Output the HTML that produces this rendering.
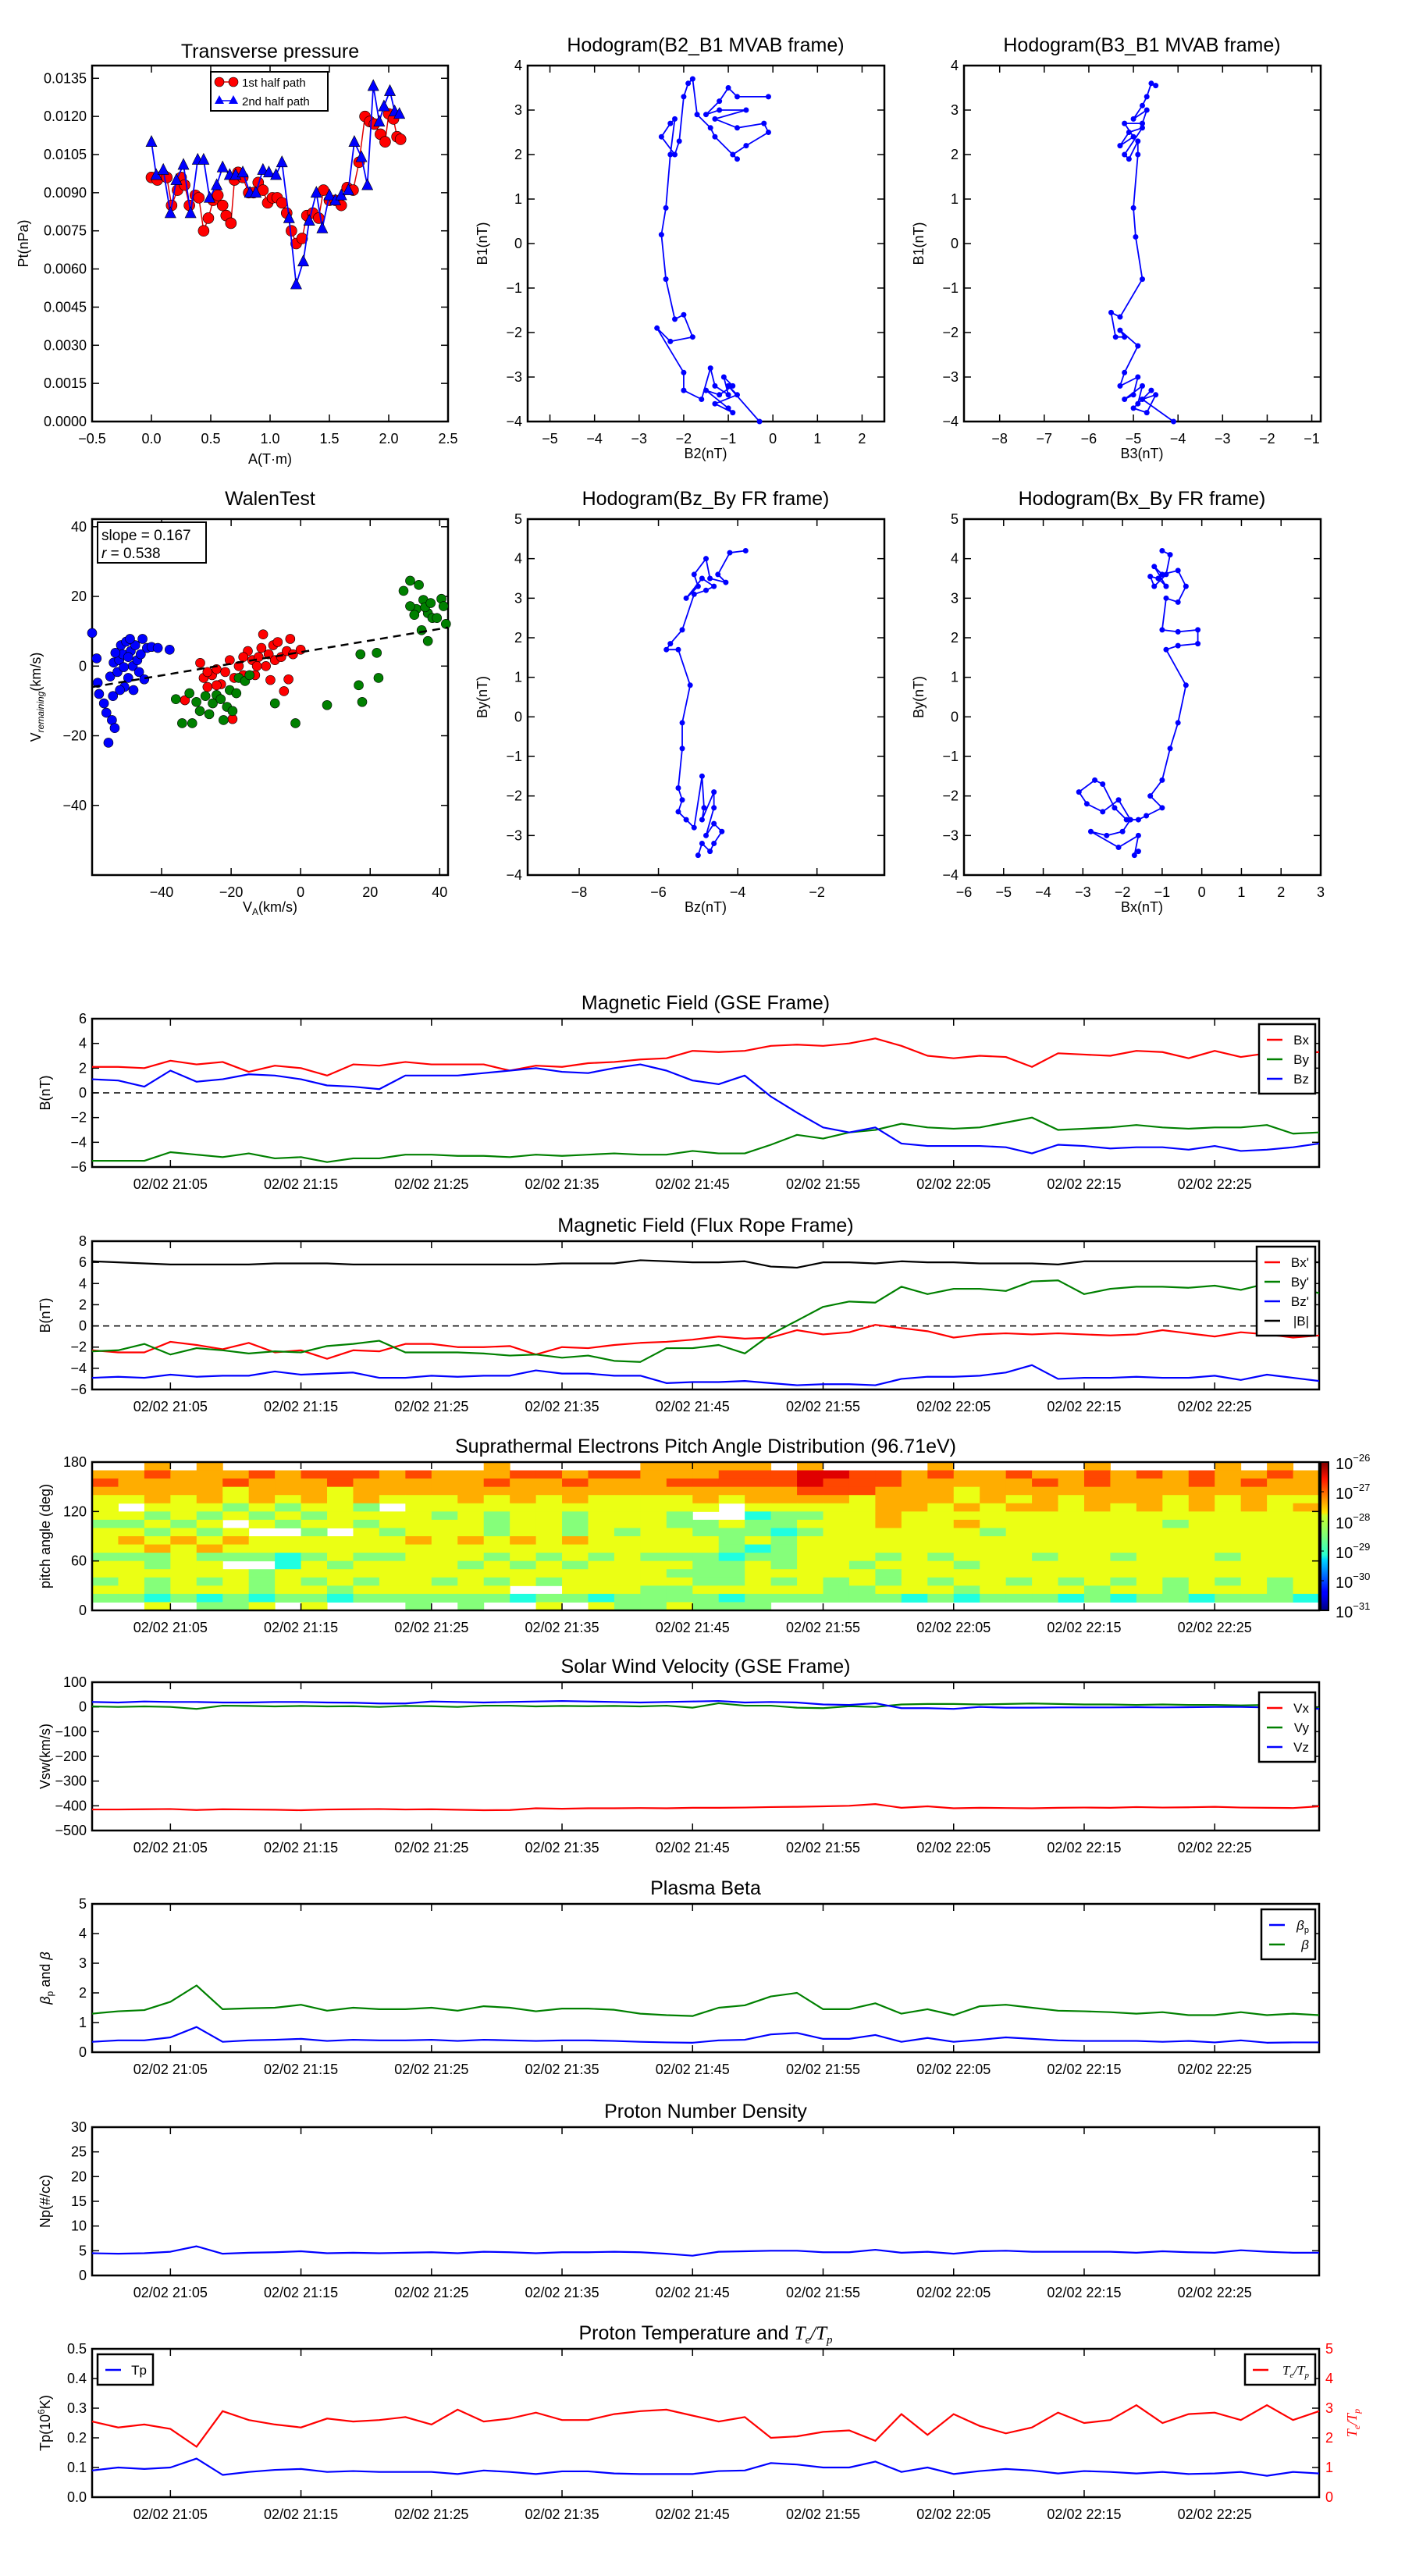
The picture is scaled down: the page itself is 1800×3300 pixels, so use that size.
<!DOCTYPE html>
<html><head><meta charset="utf-8"><style>
body{margin:0;background:#fff}
svg{display:block;font-family:"Liberation Sans",sans-serif}
</style></head><body>
<svg id="fig" width="1800" height="3300" viewBox="0 0 1800 3300" xmlns="http://www.w3.org/2000/svg">
<defs>
<linearGradient id="jet" x1="0" y1="1" x2="0" y2="0">
<stop offset="0" stop-color="#00007f"/><stop offset="0.11" stop-color="#0000ff"/><stop offset="0.125" stop-color="#0000ff"/><stop offset="0.34" stop-color="#00d4ff"/><stop offset="0.375" stop-color="#29ffce"/><stop offset="0.5" stop-color="#7dff7a"/><stop offset="0.64" stop-color="#ceff29"/><stop offset="0.66" stop-color="#ffe600"/><stop offset="0.89" stop-color="#ff1300"/><stop offset="1" stop-color="#7f0000"/>
</linearGradient>
</defs>
</svg>
<script>
// ---------- data ----------
const tpRedA=[0.0,0.05,0.1,0.13,0.17,0.22,0.25,0.28,0.32,0.37,0.4,0.44,0.48,0.52,0.56,0.6,0.63,0.67,0.7,0.73,0.77,0.82,0.86,0.9,0.94,0.98,1.02,1.06,1.1,1.14,1.18,1.22,1.27,1.31,1.36,1.41,1.45,1.5,1.55,1.6,1.65,1.7,1.75,1.8,1.84,1.88,1.93,1.97,2.0,2.04,2.07,2.1];
const tpRedP=[0.0096,0.0095,0.0097,0.0096,0.0085,0.0091,0.0096,0.0093,0.0085,0.0089,0.0088,0.0075,0.0080,0.0087,0.0089,0.0085,0.0081,0.0078,0.0095,0.0098,0.0096,0.0090,0.0090,0.0094,0.0091,0.0086,0.0088,0.0088,0.0086,0.0082,0.0075,0.0070,0.0072,0.0081,0.0082,0.0080,0.0091,0.0087,0.0087,0.0085,0.0092,0.0091,0.0102,0.0120,0.0118,0.0117,0.0113,0.0110,0.0121,0.0119,0.0112,0.0111];
const tpBlueA=[0,0.04,0.1,0.16,0.21,0.27,0.33,0.39,0.44,0.49,0.55,0.6,0.66,0.71,0.77,0.83,0.88,0.94,0.99,1.05,1.1,1.16,1.22,1.28,1.33,1.39,1.44,1.5,1.55,1.6,1.66,1.71,1.77,1.82,1.87,1.92,1.96,2.01,2.05,2.09];
const tpBlueP=[0.0110,0.0097,0.0099,0.0082,0.0095,0.0101,0.0082,0.0103,0.0103,0.0088,0.0093,0.0100,0.0097,0.0097,0.0098,0.0090,0.0090,0.0099,0.0098,0.0097,0.0102,0.0080,0.0054,0.0063,0.0079,0.0090,0.0076,0.0089,0.0087,0.0089,0.0091,0.0110,0.0104,0.0093,0.0132,0.0118,0.0124,0.0130,0.0122,0.0121];
const h1B2=[-0.1,-0.8,-1.0,-1.2,-1.5,-1.2,-0.6,-1.3,-0.8,-0.2,-0.1,-0.6,-0.9,-0.8,-1.3,-1.4,-1.7,-1.8,-1.9,-2.0,-2.1,-2.2,-2.5,-2.3,-2.2,-2.3,-2.4,-2.5,-2.4,-2.2,-2.0,-1.8,-2.3,-2.6,-2.0,-2.0,-1.6,-1.4,-1.3,-1.0,-1.1,-0.9,-1.2,-1.5,-1.0,-0.9,-1.3,-0.8,-1.0,-0.3];
const h1B1=[3.3,3.3,3.5,3.2,2.9,3.0,3.0,2.8,2.6,2.7,2.5,2.2,2.0,1.9,2.4,2.6,2.9,3.7,3.6,3.3,2.3,2.0,2.4,2.7,2.8,2.0,0.8,0.2,-0.8,-1.7,-1.6,-2.1,-2.2,-1.9,-2.9,-3.3,-3.5,-2.8,-3.2,-3.4,-3.0,-3.2,-3.4,-3.3,-3.7,-3.8,-3.6,-3.4,-3.2,-4.0];
const h2B3=[-4.5,-4.6,-4.7,-4.8,-5.0,-4.7,-4.8,-5.2,-5.0,-5.3,-5.1,-4.8,-5.2,-5.1,-4.9,-4.9,-5.0,-4.95,-4.8,-5.3,-5.5,-5.4,-5.2,-5.3,-4.9,-5.2,-5.3,-4.9,-5.0,-5.2,-4.8,-4.9,-4.6,-5.0,-4.7,-4.5,-4.8,-4.1];
const h2B1=[3.55,3.6,3.3,3.1,2.8,3.0,2.7,2.7,2.4,2.2,2.5,2.6,2.0,1.9,2.3,2.0,0.8,0.15,-0.8,-1.65,-1.55,-2.1,-2.1,-1.95,-2.3,-2.9,-3.2,-3.0,-3.4,-3.5,-3.2,-3.6,-3.3,-3.7,-3.8,-3.4,-3.5,-4.0];
const h3Bz=[-3.8,-4.2,-4.5,-4.3,-4.7,-4.8,-5.1,-5.0,-5.3,-4.9,-4.6,-4.8,-5.1,-5.4,-5.7,-5.8,-5.5,-5.2,-5.4,-5.4,-5.5,-5.4,-5.5,-5.3,-5.1,-4.9,-4.85,-4.9,-4.6,-4.6,-4.8,-4.6,-4.4,-4.6,-4.7,-4.9,-5.0];
const h3By=[4.2,4.15,3.6,3.4,3.5,4.0,3.6,3.3,3.0,3.5,3.3,3.2,3.1,2.2,1.85,1.7,1.7,0.8,-0.15,-0.8,-1.8,-2.1,-2.4,-2.6,-2.8,-1.5,-2.3,-2.6,-1.9,-2.3,-3.0,-2.7,-2.9,-3.2,-3.4,-3.2,-3.5];
const h4Bx=[-1.0,-0.8,-0.9,-1.2,-1.3,-1.1,-0.9,-1.2,-1.0,-0.6,-0.4,-0.6,-0.9,-1.0,-0.6,-0.1,-0.1,-0.6,-0.9,-0.4,-0.6,-0.8,-1.0,-1.3,-1.0,-1.4,-1.6,-1.9,-2.2,-2.5,-2.7,-3.1,-2.9,-2.5,-2.1,-1.8,-2.0,-2.4,-2.8,-2.1,-1.6,-1.7,-1.6];
const h4By=[4.2,4.1,3.6,3.3,3.55,3.5,3.3,3.8,3.6,3.7,3.3,2.9,3.0,2.2,2.15,2.2,1.85,1.8,1.7,0.8,-0.15,-0.8,-1.6,-2.0,-2.3,-2.5,-2.6,-2.6,-2.3,-1.7,-1.6,-1.9,-2.2,-2.4,-2.1,-2.6,-2.9,-3.0,-2.9,-3.3,-3.0,-3.5,-3.4];
const walenBlueVA=[-60,-58.7,-58.4,-58,-56.6,-55.9,-55.3,-54.3,-53.5,-54.8,-53.8,-52.7,-52.2,-51.7,-51.2,-50.7,-50.2,-49.6,-48.9,-48.3,-48.1,-47.6,-47,-46.5,-46,-45.5,-45,-44.2,-42.9,-41.1,-37.7,-49.6,-50.9,-53.3,-49.1,-52,-54];
const walenBlueVR=[9.5,2.2,-4.8,-8,-10.7,-13.4,-22,-15.5,-17.8,-3,1,-1.7,1.7,6,3.4,-6,7,-3.4,4.3,0,-6.9,6,1.7,-1.7,3.4,7.8,-3.8,5.2,5.5,5.2,4.7,2.6,-0.3,3.8,7.8,-6.9,-8.6];
const walenRedVA=[-33.3,-28.9,-27.9,-26.8,-25.5,-24.2,-22.9,-21.7,-20.4,-19.6,-19.1,-17.8,-16.5,-15.2,-13.9,-13.1,-12.1,-11.3,-10.8,-10,-9.2,-8.7,-7.9,-7.4,-6.6,-5.6,-4.8,-4,-3.5,-3,-2.2,0,-16.5,-12.6,-24.2,-26.8];
const walenRedVR=[-9.8,0.9,-3.4,-6,-2.6,-0.9,-5.2,-1.7,1.7,-15.2,-3.4,0,-2.6,4.3,1.7,-2.6,2.6,5.2,9.1,0,3.4,-4,6,1.7,6.9,2.6,-7.2,4.3,-3.8,7.8,3.4,4.7,2.6,0,-5.5,-1.7];
const walenGreenVA=[-35.9,-34.1,-32,-31.2,-30,-29,-27.4,-26.3,-25.3,-24.2,-23,-22.2,-21.2,-20.4,-19.6,-18.5,-17.8,-16,-14.7,-7.4,-1.5,7.6,16.7,17.7,17.2,21.9,22.4,29.6,31.5,33.3,34,35.3,36.6,34.8,36.6,37.9,39.2,40.5,41.8,32.7,31.5,35.8,37.4,41.1];
const walenGreenVR=[-9.5,-16.4,-7.8,-16.4,-10.3,-12.9,-8.6,-13.8,-10.7,-8.3,-9.5,-15.5,-11.7,-6.9,-12.9,-7.8,-3.4,-4.3,-2.6,-10.7,-16.4,-11.2,-5.5,-10.3,3.4,3.8,-3.4,21.6,24.5,16.4,23.3,19,15.2,10.3,7.2,13.8,13.8,19.3,12.1,14.7,17.2,16.9,18.1,17.2];
const walenSlope=0.167, walenIntercept=4.0;
// time series: one sample every 2 minutes starting 20:59
const gseBx=[2.1,2.1,2.0,2.6,2.3,2.5,1.7,2.2,2.0,1.4,2.3,2.2,2.5,2.3,2.3,2.3,1.8,2.2,2.1,2.4,2.5,2.7,2.8,3.4,3.3,3.4,3.8,3.9,3.8,4.0,4.4,3.8,3.0,2.8,3.0,2.9,2.1,3.2,3.1,3.0,3.4,3.3,2.8,3.4,2.9,3.2,3.2,3.3];
const gseBy=[-5.5,-5.5,-5.5,-4.8,-5.0,-5.2,-4.9,-5.3,-5.2,-5.6,-5.3,-5.3,-5.0,-5.0,-5.1,-5.1,-5.2,-5.0,-5.1,-5.0,-4.9,-5.0,-5.0,-4.7,-4.9,-4.9,-4.2,-3.4,-3.7,-3.2,-3.0,-2.5,-2.8,-2.9,-2.8,-2.4,-2.0,-3.0,-2.9,-2.8,-2.6,-2.8,-2.9,-2.8,-2.8,-2.6,-3.3,-3.2];
const gseBz=[1.1,1.0,0.5,1.8,0.9,1.1,1.5,1.4,1.1,0.6,0.5,0.3,1.4,1.4,1.4,1.6,1.8,2.0,1.7,1.6,2.0,2.3,1.8,1.0,0.7,1.4,-0.3,-1.6,-2.8,-3.2,-2.8,-4.1,-4.3,-4.3,-4.3,-4.4,-4.9,-4.2,-4.3,-4.5,-4.4,-4.4,-4.6,-4.3,-4.7,-4.6,-4.4,-4.1];
const frBx=[-2.3,-2.5,-2.5,-1.5,-1.8,-2.2,-1.6,-2.5,-2.3,-3.1,-2.3,-2.4,-1.7,-1.7,-2.0,-2.0,-1.9,-2.7,-2.0,-2.1,-1.8,-1.6,-1.5,-1.3,-1.0,-1.2,-1.1,-0.4,-0.8,-0.6,0.1,-0.2,-0.5,-1.1,-0.8,-0.7,-0.8,-0.7,-0.8,-0.9,-0.8,-0.4,-0.7,-1.0,-0.6,-0.8,-1.1,-0.9];
const frBy=[-2.4,-2.3,-1.7,-2.7,-2.1,-2.3,-2.6,-2.4,-2.5,-1.9,-1.7,-1.4,-2.5,-2.5,-2.5,-2.6,-2.8,-2.7,-3.0,-2.8,-3.3,-3.4,-2.1,-2.1,-1.8,-2.6,-0.8,0.5,1.8,2.3,2.2,3.7,3.0,3.5,3.5,3.3,4.2,4.3,3.0,3.5,3.7,3.7,3.6,3.8,3.4,4.0,3.6,3.1];
const frBz=[-4.9,-4.8,-4.9,-4.6,-4.8,-4.7,-4.7,-4.3,-4.6,-4.5,-4.4,-4.9,-4.9,-4.7,-4.8,-4.7,-4.7,-4.2,-4.5,-4.5,-4.7,-4.7,-5.4,-5.3,-5.3,-5.2,-5.4,-5.6,-5.5,-5.5,-5.6,-5.0,-4.8,-4.8,-4.7,-4.4,-3.7,-5.0,-4.9,-4.9,-4.8,-4.9,-4.9,-4.7,-5.1,-4.6,-4.9,-5.2];
const frBt=[6.1,6.0,5.9,5.8,5.8,5.8,5.8,5.9,5.9,5.9,5.8,5.8,5.8,5.8,5.8,5.8,5.8,5.8,5.9,5.9,5.9,6.2,6.1,6.0,6.0,6.1,5.6,5.5,6.0,6.0,5.9,6.1,6.0,6.0,5.9,5.9,5.9,5.8,6.1,6.1,6.1,6.1,6.1,6.1,6.1,6.1,6.1,6.0];
const swVx=[-415,-415,-414,-413,-417,-414,-415,-416,-418,-415,-414,-413,-415,-414,-416,-418,-417,-410,-412,-410,-410,-409,-410,-408,-408,-407,-405,-404,-402,-400,-393,-408,-402,-410,-408,-409,-410,-408,-407,-408,-405,-407,-406,-404,-407,-408,-409,-402];
const swVy=[2,0,2,0,-8,5,4,2,4,2,3,0,4,3,0,5,5,2,4,3,4,2,5,-3,15,5,5,-3,-5,3,0,10,12,12,10,12,14,12,10,10,8,10,8,8,6,8,8,-5];
const swVz=[20,18,22,20,20,18,18,20,20,18,17,14,14,22,20,18,20,22,24,22,20,18,20,22,24,18,20,18,10,8,15,-5,-5,-8,0,-3,-3,-2,-2,-2,-1,-2,-1,0,0,-2,-2,-8];
const betaP=[0.35,0.4,0.4,0.5,0.85,0.35,0.4,0.42,0.45,0.38,0.42,0.4,0.4,0.42,0.38,0.42,0.4,0.38,0.4,0.4,0.38,0.35,0.33,0.32,0.4,0.42,0.6,0.65,0.45,0.45,0.58,0.35,0.48,0.35,0.42,0.5,0.45,0.4,0.38,0.38,0.38,0.35,0.38,0.33,0.4,0.32,0.33,0.33];
const betaT=[1.3,1.38,1.42,1.7,2.25,1.45,1.48,1.5,1.6,1.4,1.5,1.45,1.45,1.5,1.4,1.55,1.5,1.38,1.47,1.47,1.43,1.3,1.25,1.22,1.5,1.58,1.88,2.0,1.45,1.45,1.65,1.3,1.45,1.25,1.55,1.6,1.5,1.4,1.38,1.35,1.3,1.35,1.25,1.25,1.35,1.25,1.3,1.25];
const npVals=[4.5,4.4,4.5,4.8,5.9,4.4,4.6,4.7,4.9,4.5,4.6,4.5,4.6,4.7,4.5,4.8,4.7,4.5,4.7,4.7,4.8,4.7,4.4,4.0,4.8,4.9,5.0,5.0,4.7,4.7,5.2,4.6,4.8,4.4,4.9,5.0,4.8,4.8,4.8,4.8,4.6,4.9,4.7,4.6,5.1,4.8,4.6,4.6];
const tpVals=[0.09,0.1,0.095,0.1,0.13,0.075,0.085,0.092,0.095,0.085,0.088,0.085,0.085,0.085,0.078,0.09,0.085,0.078,0.087,0.087,0.08,0.078,0.078,0.078,0.088,0.09,0.115,0.11,0.1,0.1,0.12,0.085,0.1,0.078,0.088,0.095,0.09,0.08,0.088,0.085,0.08,0.085,0.078,0.08,0.085,0.072,0.085,0.08];
const teTpVals=[2.55,2.35,2.45,2.3,1.7,2.9,2.6,2.45,2.35,2.65,2.55,2.6,2.7,2.45,2.95,2.55,2.65,2.85,2.6,2.6,2.8,2.9,2.95,2.75,2.55,2.7,2.0,2.05,2.2,2.25,1.9,2.8,2.1,2.8,2.4,2.15,2.35,2.85,2.5,2.6,3.1,2.5,2.8,2.85,2.6,3.1,2.6,2.9];
// PAD: rows from 170-180 deg (top) down to 0-10 deg; digit = colour level, '.' = no data
const padRows=[
"..7.7..........7.....77777.7....7.....7....7.7.",
"77877787888787778878877788899887877877878787787",
"87777877787777787787778888898887777787877787877",
"77777677767777777777777777788877767777777777777",
"66767676767666767676666767777677767676777676766",
"6.666565665.666666666666.6666677676776767676767",
"66565656566665656656665..4556676666666666666666",
"55656.65665666656656665565566676676666666566666",
"665656..5.6566656656566555456666665666666666666",
"67676766666676767676666656566666666666666666666",
"66767666666666666666666654566666666666666666666",
"55565554565566656565655545566656566656656665666",
"66566..46566665656566665565665666566666666666665",
"66666656666666666666665556666656666666666666666",
"56565656565665656566666556565656566565656565656",
"6656665665666666..66655666665566656666566566656",
"55454545545555554554555545555554545554545545554",
"..6.556.6...5.5..6.6556555......................"];
const timeTickMin=[6,16,26,36,46,56,66,76,86];
const timeTickLabels=["02/02 21:05","02/02 21:15","02/02 21:25","02/02 21:35","02/02 21:45","02/02 21:55","02/02 22:05","02/02 22:15","02/02 22:25"];
const cbarLabels=["-26","-27","-28","-29","-30","-31"];

// ---------- helpers ----------
const NS='http://www.w3.org/2000/svg';
const svg=document.getElementById('fig');
function mk(tag,attrs,parent){const e=document.createElementNS(NS,tag);for(const k in attrs)e.setAttribute(k,attrs[k]);(parent||svg).appendChild(e);return e;}
function fmtMinus(s){return String(s).replace('-','\u2212');}
function axes(name,x0,y0,w,h,xr,yr,xt,yt,xl,yl){
  const g=mk('g',{});
  
  
  const sx=v=>x0+(v-xr[0])/(xr[1]-xr[0])*w;
  const sy=v=>y0+h-(v-yr[0])/(yr[1]-yr[0])*h;
  const tg=mk('g',{stroke:'#000','stroke-width':1.5},g);
  
  
  xt.forEach((v,i)=>{const x=sx(v);
    mk('line',{x1:x,x2:x,y1:y0+h,y2:y0+h-9},tg);mk('line',{x1:x,x2:x,y1:y0,y2:y0+9},tg);
    const t=mk('text',{x:x,y:y0+h+28,'text-anchor':'middle','font-size':18},g);
    
    
    t.textContent=xl[i];});
  yt.forEach((v,i)=>{const y=sy(v);
    mk('line',{x1:x0,x2:x0+9,y1:y,y2:y},tg);mk('line',{x1:x0+w,x2:x0+w-9,y1:y,y2:y},tg);
    const t=mk('text',{x:x0-7,y:y+6,'text-anchor':'end','font-size':18},g);
    
    
    t.textContent=yl[i];});
  const fr=mk('rect',{x:x0,y:y0,width:w,height:h,fill:'none',stroke:'#000','stroke-width':2.5},g);
  
  
  return {g,sx,sy,x0,y0,w,h};
}
function title(txt,x,y,name){const t=mk('text',{x:x,y:y,'text-anchor':'middle','font-size':25});
  
  
  t.innerHTML=txt;return t;}
function ylabel(txt,x,y,name,color){const t=mk('text',{x:x,y:y,'text-anchor':'middle','font-size':18,fill:color||'#000',transform:`rotate(-90 ${x} ${y})`});
  
  
  t.innerHTML=txt;return t;}
function xlabel(txt,x,y,name){const t=mk('text',{x:x,y:y,'text-anchor':'middle','font-size':18});
  
  
  t.innerHTML=txt;return t;}
function line(ax,xs,ys,color,name,w){const p=mk('polyline',{points:xs.map((x,i)=>ax.sx(x)+','+ax.sy(ys[i])).join(' '),fill:'none',stroke:color,'stroke-width':w||2.2,'stroke-linejoin':'round'},ax.g);
  
  
  return p;}
function dots(ax,xs,ys,color,r,name){xs.forEach((x,i)=>{const c=mk('circle',{cx:ax.sx(x),cy:ax.sy(ys[i]),r:r,fill:color,stroke:r>4?'#000':'none','stroke-width':0.6},ax.g);
  
  });}
function range(a,b,s){const r=[];for(let v=a;v<=b+1e-9;v+=s)r.push(+v.toFixed(6));return r;}
function legend(x,y,w,items,name){const g=mk('g',{});
  
  
  mk('rect',{x:x,y:y,width:w,height:items.length*25+14,fill:'#fff',stroke:'#000','stroke-width':2.5},g);
  items.forEach((it,i)=>{const yy=y+20+i*25;
    const l=mk('line',{x1:x+10,x2:x+30,y1:yy,y2:yy,stroke:it[1],'stroke-width':2.5},g);
    
    
    const t=mk('text',{x:x+w-8,y:yy+6,'text-anchor':'end','font-size':17},g);
    
    
    t.innerHTML=it[0];});
  return g;}

// ---------- top row ----------
let ax=axes('transverse-pressure-axes',118,84,456,456,[-0.5,2.5],[0,0.014],range(-0.5,2.5,0.5),range(0,0.0135,0.0015),
  range(-0.5,2.5,0.5).map(v=>fmtMinus(v.toFixed(1))),range(0,0.0135,0.0015).map(v=>v.toFixed(4)));
title('Transverse pressure',346,74,'transverse-pressure-title');
ylabel('Pt(nPa)',36,312,'pt-axis-title');xlabel('A(T·m)',346,594,'a-axis-title');
line(ax,tpRedA,tpRedP,'#e00000','first-half-line',1.5);
dots(ax,tpRedA,tpRedP,'#ff0000',7,'first-half-point');
line(ax,tpBlueA,tpBlueP,'#0000ff','second-half-line',1.8);
tpBlueA.forEach((a,i)=>{const x=ax.sx(a),y=ax.sy(tpBlueP[i]);const p=mk('polygon',{points:`${x},${y-8} ${x-7},${y+6} ${x+7},${y+6}`,fill:'#0000ff',stroke:'#000','stroke-width':0.6},ax.g);
  
  });
{const g=mk('g',{});
 mk('rect',{x:270,y:92,width:150,height:50,fill:'#fff',stroke:'#000','stroke-width':2},g);
 mk('line',{x1:278,x2:300,y1:105,y2:105,stroke:'#e00000','stroke-width':1.5},g);
 mk('circle',{cx:281,cy:105,r:6,fill:'#f00',stroke:'#000','stroke-width':.6},g);mk('circle',{cx:299,cy:105,r:6,fill:'#f00',stroke:'#000','stroke-width':.6},g);
 mk('line',{x1:278,x2:300,y1:129,y2:129,stroke:'#00f','stroke-width':1.5},g);
 mk('polygon',{points:'281,122 275,133 287,133',fill:'#00f'},g);mk('polygon',{points:'299,122 293,133 305,133',fill:'#00f'},g);
 const t1=mk('text',{x:310,y:111,'font-size':15},g);t1.textContent='1st half path';
 const t2=mk('text',{x:310,y:135,'font-size':15},g);t2.textContent='2nd half path';}

function hodo(name,x0,y0,xr,yr,xt,yt,xs,ys,ttl,xl,yl){
  const a=axes(name,x0,y0,457,456,xr,yr,xt,yt,xt.map(fmtMinus),yt.map(fmtMinus));
  title(ttl,x0+228,y0-18,name+'-title');
  xlabel(xl,x0+228,y0+503,name+'-x-title');ylabel(yl,x0-52,y0+228,name+'-y-title');
  line(a,xs,ys,'#0000ff',name+'-path',1.8);dots(a,xs,ys,'#0000ff',3.5,name+'-point');
}
hodo('hodogram-b2-b1',676,84,[-5.5,2.5],[-4,4],range(-5,2,1),range(-4,4,1),h1B2,h1B1,'Hodogram(B2_B1 MVAB frame)','B2(nT)','B1(nT)');
hodo('hodogram-b3-b1',1235,84,[-8.8,-0.8],[-4,4],range(-8,-1,1),range(-4,4,1),h2B3,h2B1,'Hodogram(B3_B1 MVAB frame)','B3(nT)','B1(nT)');
// bottom row
ax=axes('walen-axes',118,665,456,456,[-60,42.4],[-60,42.2],[-40,-20,0,20,40],[-40,-20,0,20,40],['\u221240','\u221220','0','20','40'],['\u221240','\u221220','0','20','40']);
title('WalenTest',346,647,'walen-title');
xlabel('V<tspan font-size="12" dy="4">A</tspan><tspan dy="-4">(km/s)</tspan>',346,1168,'va-axis-title');
ylabel('V<tspan font-size="12" dy="4" font-style="italic">remaining</tspan><tspan dy="-4">(km/s)</tspan>',52,893,'vremaining-axis-title');
dots(ax,walenBlueVA,walenBlueVR,'#0000ff',6,'walen-blue-point');
dots(ax,walenRedVA,walenRedVR,'#ff0000',6,'walen-red-point');
dots(ax,walenGreenVA,walenGreenVR,'#008000',6,'walen-green-point');
{const p=mk('line',{x1:ax.sx(-60),y1:ax.sy(walenSlope*-60+walenIntercept),x2:ax.sx(42.4),y2:ax.sy(walenSlope*42.4+walenIntercept),stroke:'#000','stroke-width':2.5,'stroke-dasharray':'10,7'},ax.g);
 
 
 mk('rect',{x:125,y:669,width:139,height:52,fill:'#fff',stroke:'#000','stroke-width':2},ax.g);
 const t=mk('text',{x:130,y:692,'font-size':19},ax.g);t.textContent='slope = '+walenSlope.toFixed(3);
 const t2=mk('text',{x:130,y:715,'font-size':19},ax.g);t2.innerHTML='<tspan font-style="italic">r</tspan> = 0.538';}
hodo('hodogram-bz-by',676,665,[-9.3,-0.3],[-4,5],[-8,-6,-4,-2],range(-4,5,1),h3Bz,h3By,'Hodogram(Bz_By FR frame)','Bz(nT)','By(nT)');
hodo('hodogram-bx-by',1235,665,[-6,3],[-4,5],range(-6,3,1),range(-4,5,1),h4Bx,h4By,'Hodogram(Bx_By FR frame)','Bx(nT)','By(nT)');

// ---------- time series ----------
const tMin=gseBx.map((_,i)=>i*2);
function tsAxes(name,y0,yr,yt,yl,ttl,ylab){
  const a=axes(name,118,y0,1572,190,[0,94],yr,timeTickMin,yt,timeTickLabels,yl);
  title(ttl,904,y0-12,name+'-title');
  ylabel(ylab,64,y0+95,name+'-y-title');
  return a;}
function zero(a){const l=mk('line',{x1:a.x0,x2:a.x0+a.w,y1:a.sy(0),y2:a.sy(0),stroke:'#000','stroke-width':1.5,'stroke-dasharray':'8,6'},a.g);
  
  }
ax=tsAxes('gse-field-axes',1305,[-6,6],range(-6,6,2),range(-6,6,2).map(fmtMinus),'Magnetic Field (GSE Frame)','B(nT)');
zero(ax);line(ax,tMin,gseBx,'#ff0000','bx-line');line(ax,tMin,gseBy,'#008000','by-line');line(ax,tMin,gseBz,'#0000ff','bz-line');
legend(1613,1312,72,[['Bx','#f00'],['By','#008000'],['Bz','#00f']],'gse-legend');

ax=tsAxes('fr-field-axes',1590,[-6,8],range(-6,8,2),range(-6,8,2).map(fmtMinus),'Magnetic Field (Flux Rope Frame)','B(nT)');
zero(ax);line(ax,tMin,frBt,'#000','bt-line');line(ax,tMin,frBx,'#ff0000','bx-prime-line');line(ax,tMin,frBy,'#008000','by-prime-line');line(ax,tMin,frBz,'#0000ff','bz-prime-line');
legend(1610,1597,75,[["Bx'",'#f00'],["By'",'#008000'],["Bz'",'#00f'],['|B|','#000']],'fr-legend');

// PAD heatmap
ax=tsAxes('pad-axes',1873,[0,180],[0,60,120,180],['0','60','120','180'],'Suprathermal Electrons Pitch Angle Distribution (96.71eV)','pitch angle (deg)');
function jet(t){const c=v=>Math.round(255*Math.max(0,Math.min(1,v)));return `rgb(${c(1.5-Math.abs(4*t-3))},${c(1.5-Math.abs(4*t-2))},${c(1.5-Math.abs(4*t-1))})`;}
{const hm=mk('g',{});
 ax.g.insertBefore(hm,ax.g.firstChild);
 padRows.forEach((row,r)=>{const a0=170-r*10;
  for(let j=0;j<47;j++){const ch=row[j];if(!ch||ch==='.')continue;const d=+ch;const logv=-31+0.5*(d+0.05);
   const x1=ax.sx(j*2),x2=ax.sx(j*2+2),y1=ax.sy(a0+10),y2=ax.sy(a0);
   const c=mk('rect',{x:x1,y:y1,width:x2-x1+0.5,height:y2-y1+0.5,fill:jet((logv+31)/5)},hm);
   
   }});
 const cb=mk('rect',{x:1692,y:1873,width:10,height:190,fill:'url(#jet)',stroke:'#000','stroke-width':2});
 
 
 cbarLabels.forEach((e,i)=>{const y=1873+i*38;
  const tk=mk('line',{x1:1692,x2:1696,y1:y,y2:y,stroke:'#000','stroke-width':1});
  
  
  const t=mk('text',{x:1711,y:y+9,'font-size':20});
  
  
  t.innerHTML=`10<tspan font-size="13" dy="-10">${fmtMinus(e)}</tspan>`;});}

ax=tsAxes('solar-wind-axes',2155,[-500,100],range(-500,100,100),range(-500,100,100).map(fmtMinus),'Solar Wind Velocity (GSE Frame)','Vsw(km/s)');
line(ax,tMin,swVx,'#ff0000','vx-line');line(ax,tMin,swVy,'#008000','vy-line');line(ax,tMin,swVz,'#0000ff','vz-line');
legend(1613,2168,72,[['Vx','#f00'],['Vy','#008000'],['Vz','#00f']],'velocity-legend');

ax=tsAxes('plasma-beta-axes',2439,[0,5],range(0,5,1),range(0,5,1).map(String),'Plasma Beta','<tspan font-style="italic">β</tspan><tspan font-size="12" dy="4">p</tspan><tspan dy="-4"> and </tspan><tspan font-style="italic">β</tspan>');
line(ax,tMin,betaP,'#0000ff','beta-p-line');line(ax,tMin,betaT,'#008000','beta-line');
legend(1616,2446,69,[['<tspan font-style="italic">β</tspan><tspan font-size="11" dy="4">p</tspan>','#00f'],['<tspan font-style="italic">β</tspan>','#008000']],'beta-legend');

ax=tsAxes('proton-density-axes',2725,[0,30],range(0,30,5),range(0,30,5).map(String),'Proton Number Density','Np(#/cc)');
line(ax,tMin,npVals,'#0000ff','np-line');

ax=tsAxes('proton-temp-axes',3009,[0,0.5],range(0,0.5,0.1),range(0,0.5,0.1).map(v=>v.toFixed(1)),'Proton Temperature and <tspan font-style="italic" font-family="Liberation Serif">T<tspan font-size="15" dy="5">e</tspan><tspan dy="-5">/T</tspan><tspan font-size="15" dy="5">p</tspan></tspan>','Tp(10<tspan font-size="12" dy="-7">6</tspan><tspan dy="7">K)</tspan>');
line(ax,tMin,tpVals,'#0000ff','tp-line');
{const sy2=v=>3009+190-v/5*190;
 const p=mk('polyline',{points:tMin.map((m,i)=>ax.sx(m)+','+sy2(teTpVals[i])).join(' '),fill:'none',stroke:'#ff0000','stroke-width':2.2},ax.g);
 
 
 [0,1,2,3,4,5].forEach(v=>{const t=mk('text',{x:1698,y:sy2(v)+6,'font-size':18,fill:'#f00'});
  
  
  t.textContent=String(v);});
 ylabel('<tspan font-style="italic" font-family="Liberation Serif">T<tspan font-size="12" dy="4">e</tspan><tspan dy="-4">/T</tspan><tspan font-size="12" dy="4">p</tspan></tspan>',1738,3104,'te-tp-axis-title','#f00');}
legend(125,3016,71,[['Tp','#00f']],'tp-legend');
legend(1595,3016,90,[['<tspan font-style="italic" font-family="Liberation Serif">T<tspan font-size="11" dy="4">e</tspan><tspan dy="-4">/T</tspan><tspan font-size="11" dy="4">p</tspan></tspan>','#f00']],'te-tp-legend');
</script>
</body></html>
